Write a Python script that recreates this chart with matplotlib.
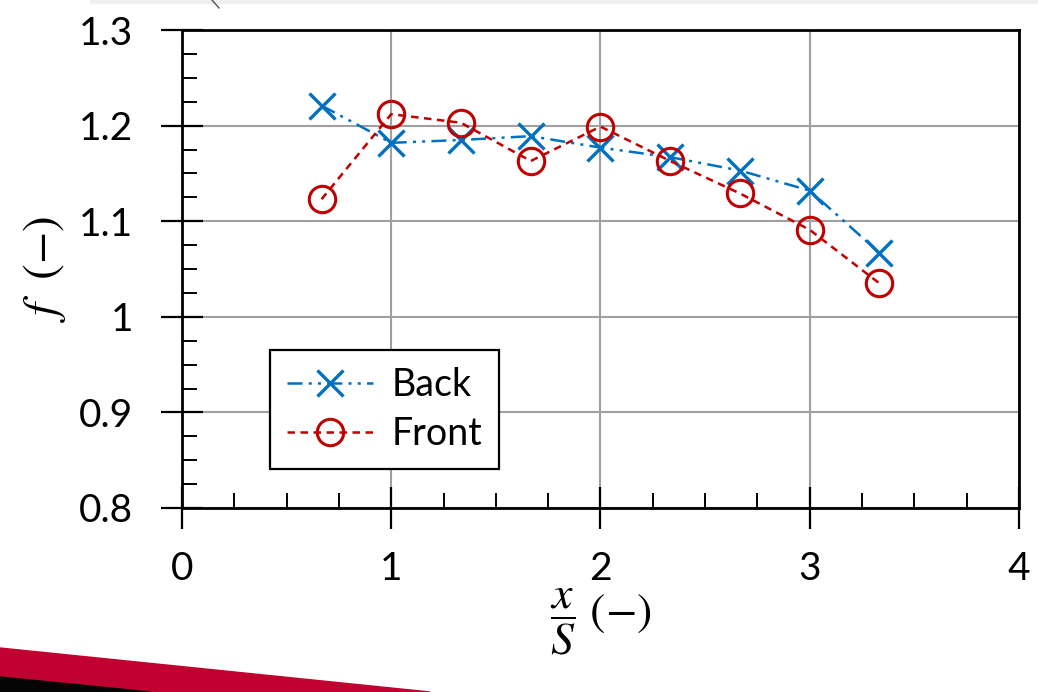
import matplotlib.pyplot as plt
from matplotlib.patches import Polygon, Rectangle
from matplotlib.ticker import MultipleLocator

# x/S positions and f values
x_pos = [0.667, 1.0, 1.333, 1.667, 2.0, 2.333, 2.667, 3.0, 3.333]
f_back = [1.221, 1.182, 1.185, 1.189, 1.177, 1.167, 1.153, 1.132, 1.067]
f_front = [1.123, 1.212, 1.203, 1.163, 1.199, 1.163, 1.129, 1.091, 1.035]
x_ticks = [0, 1, 2, 3, 4]
y_ticks = [0.8, 0.9, 1.0, 1.1, 1.2, 1.3]
y_tick_labels = ["0.8", "0.9", "1", "1.1", "1.2", "1.3"]

plt.rcParams['font.family'] = ['Lato', 'DejaVu Sans']
plt.rcParams['mathtext.fontset'] = 'stix'

fig = plt.figure(figsize=(10.38, 6.92), dpi=100)

# slide decorations: grey strip at the top, red/black swoosh bottom-left
fig.patches.append(Rectangle((90 / 1038, 1 - 3 / 692), 1, 3 / 692,
                             transform=fig.transFigure, color='#f0f0f0', zorder=0))
fig.lines.append(plt.Line2D([212 / 1038, 219 / 1038], [1, 1 - 8 / 692],
                            transform=fig.transFigure, color='#555555', lw=1))
fig.patches.append(Polygon([(0, 1 - 648 / 692), (430 / 1038, 0), (0, 0)],
                           closed=True, transform=fig.transFigure,
                           color='#c00030', zorder=0))
fig.patches.append(Polygon([(0, 1 - 677 / 692), (150 / 1038, 0), (0, 0)],
                           closed=True, transform=fig.transFigure,
                           color='#050505', zorder=0))

ax = fig.add_axes([0.1753, 0.2659, 0.8064, 0.6907])

ax.plot(x_pos, f_back, color='#0070c0', lw=1.8, dashes=[6, 2.5, 1.2, 2.5, 1.2, 2.5],
        marker='x', markersize=19, markeredgewidth=2.4, label='Back')
ax.plot(x_pos, f_front, color='#c00000', lw=1.8, dashes=[3, 2.2],
        marker='o', markersize=19, markeredgewidth=2.2,
        markerfacecolor='none', label='Front')

ax.set_xlim(0, 4)
ax.set_ylim(0.8, 1.3)
ax.set_xticks(x_ticks)
ax.set_yticks(y_ticks)
ax.set_yticklabels(y_tick_labels)
ax.xaxis.set_minor_locator(MultipleLocator(0.25))
ax.yaxis.set_minor_locator(MultipleLocator(0.025))
ax.tick_params(which='major', direction='inout', length=30, width=1.6,
               labelsize=28)
ax.tick_params(which='minor', direction='in', length=11, width=1.4)
ax.tick_params(axis='x', which='major', pad=16)
ax.tick_params(axis='y', which='major', pad=20)
ax.grid(True, which='major', color='#a0a0a0', lw=1.5)
ax.set_axisbelow(True)
for s in ax.spines.values():
    s.set_linewidth(2)
    s.set_color('black')

ax.set_xlabel(r'$\dfrac{x}{S}\ (-)$', fontsize=33, labelpad=0)
ax.set_ylabel(r'$f\ \ (-)$', fontsize=34, labelpad=8)

leg = ax.legend(loc='upper left', bbox_to_anchor=(0.105, 0.33), fontsize=27,
                frameon=True, fancybox=False, framealpha=1, edgecolor='black',
                handlelength=2.3, borderpad=0.45, labelspacing=0.35,
                handletextpad=0.5, borderaxespad=0)
leg.get_frame().set_linewidth(1.6)

fig.savefig('out.png', dpi=100)
